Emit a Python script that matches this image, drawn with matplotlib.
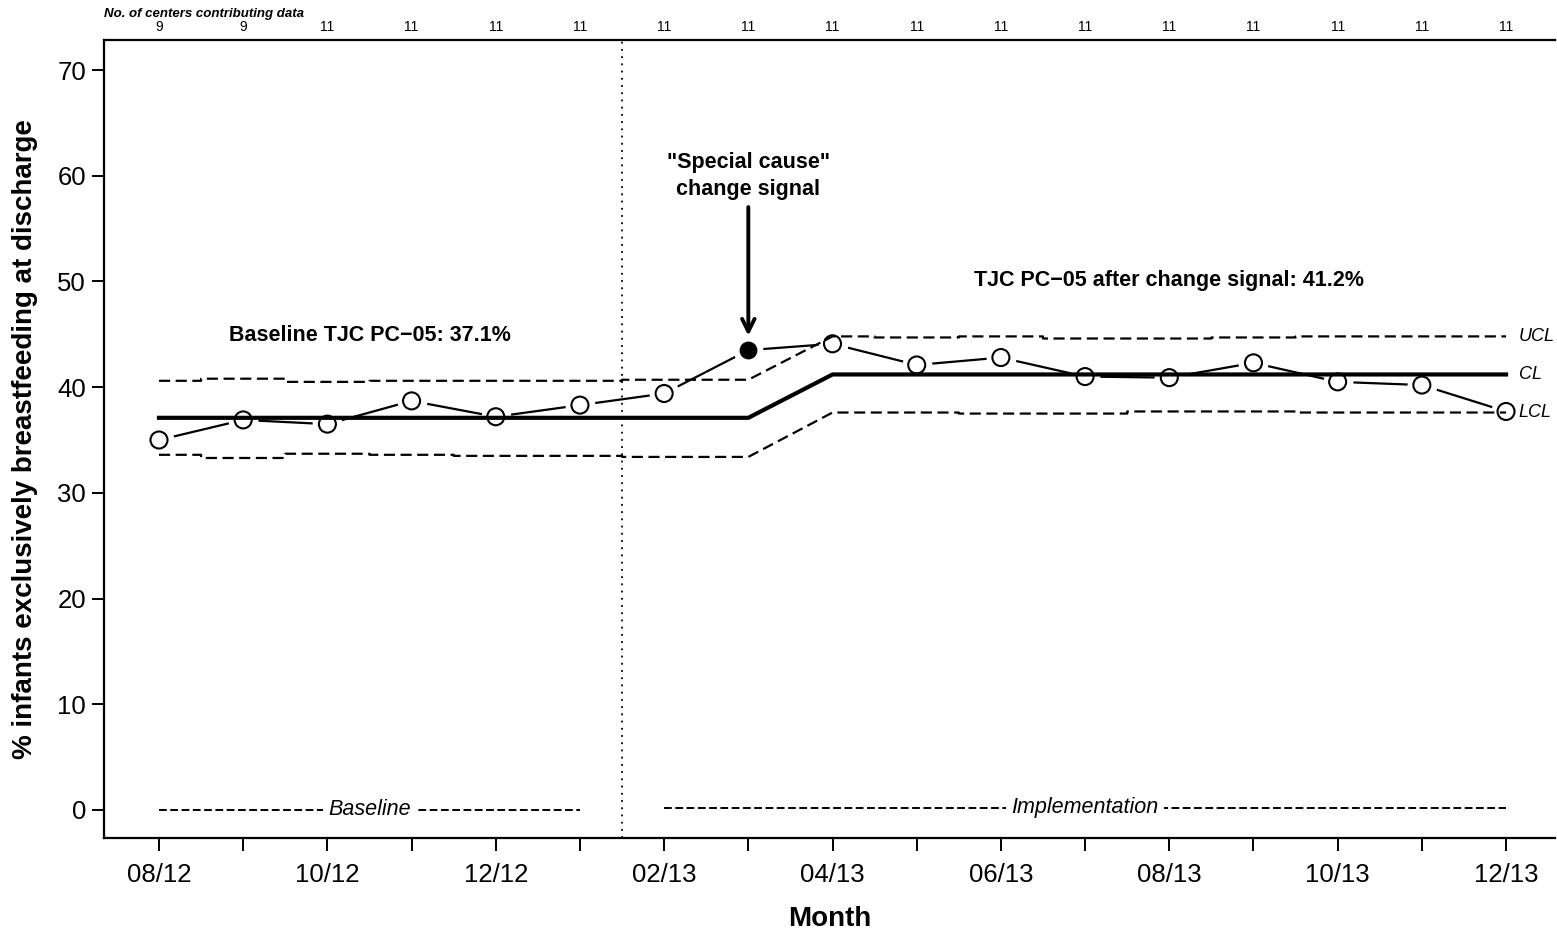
import numpy as np
import matplotlib
matplotlib.use('Agg')
import matplotlib.pyplot as plt

plt.rcParams['font.family'] = ['Liberation Sans', 'DejaVu Sans']

# monthly data
months = ['08/12', '09/12', '10/12', '11/12', '12/12', '01/13', '02/13', '03/13', '04/13',
          '05/13', '06/13', '07/13', '08/13', '09/13', '10/13', '11/13', '12/13']
pct = [35.0, 36.9, 36.5, 38.7, 37.2, 38.3, 39.4, 43.5, 44.1,
       42.1, 42.8, 41.0, 40.9, 42.3, 40.5, 40.2, 37.7]
centers = [9, 9, 11, 11, 11, 11, 11, 11, 11, 11, 11, 11, 11, 11, 11, 11, 11]

# control limits, baseline (08/12-03/13) and after change signal (04/13-12/13)
cl_base = 37.1
cl_after = 41.2
ucl_base = [40.6, 40.8, 40.5, 40.6, 40.6, 40.6, 40.7, 40.7]
lcl_base = [33.6, 33.3, 33.7, 33.6, 33.5, 33.5, 33.4, 33.4]
ucl_after = [44.8, 44.7, 44.8, 44.6, 44.6, 44.7, 44.8, 44.8, 44.8]
lcl_after = [37.6, 37.6, 37.5, 37.5, 37.7, 37.7, 37.6, 37.6, 37.6]
signal_idx = 7
phase_split = 5.5  # between 01/13 and 02/13

x = np.arange(len(months))
nb = len(ucl_base)
xb = x[:nb]
xa = x[nb:]

fig = plt.figure(figsize=(15.57, 9.3), dpi=100)
ax = fig.add_axes([104 / 1557, 1 - 838 / 930, (1555 - 104) / 1557, (838 - 40) / 930])

# data line with gaps around the points
ax.plot(x, pct, color='black', lw=1.6, zorder=2)
ax.scatter(x, pct, s=420, color='white', zorder=3)

# center line
cl = [cl_base] * nb + [cl_after] * len(xa)
ax.plot(x, cl, color='black', lw=3, zorder=4, solid_joinstyle='miter')


def limit_path(xs, vals):
    # step at the month midpoints
    px, py = [], []
    for i, (xi, v) in enumerate(zip(xs, vals)):
        lo = xi if i == 0 else xi - 0.5
        hi = xi if i == len(xs) - 1 else xi + 0.5
        px += [lo, hi]
        py += [v, v]
    return px, py


for base, after in [(ucl_base, ucl_after), (lcl_base, lcl_after)]:
    p1x, p1y = limit_path(xb, base)
    p2x, p2y = limit_path(xa, after)
    ax.plot(p1x + p2x, p1y + p2y, color='black', lw=1.6, ls=(0, (5, 2.5)), zorder=4)

# points
open_idx = [i for i in x if i != signal_idx]
ax.scatter(x[open_idx], np.array(pct)[open_idx], s=150, facecolor='none',
           edgecolor='black', lw=1.5, zorder=5)
ax.scatter([signal_idx], [pct[signal_idx]], s=140, color='black', zorder=5)

# right side labels
for lab, val in [('UCL', ucl_after[-1]), ('CL', cl_after), ('LCL', lcl_after[-1])]:
    ax.text(16.15, val, lab, style='italic', fontsize=13, va='center', ha='left')

# phase separator
ax.axvline(phase_split, color='black', lw=1.3, ls=(0, (1, 3)), zorder=1)

# phase labels
ax.plot([0, 5], [0, 0], color='black', lw=1.4, ls=(0, (4, 1.8)))
ax.text(2.5, 0, 'Baseline', style='italic', fontsize=15.5, ha='center', va='center',
        bbox=dict(facecolor='white', edgecolor='none', pad=4))
ax.plot([6, 16], [0.2, 0.2], color='black', lw=1.4, ls=(0, (4, 1.8)))
ax.text(11, 0.2, 'Implementation', style='italic', fontsize=15.5, ha='center', va='center',
        bbox=dict(facecolor='white', edgecolor='none', pad=4))

# annotations
ax.text(2.5, 44.9, 'Baseline TJC PC\u221205: 37.1%', fontsize=15.5, fontweight='bold',
        ha='center', va='center')
ax.text(12, 50.1, 'TJC PC\u221205 after change signal: 41.2%', fontsize=15.5,
        fontweight='bold', ha='center', va='center')
ax.text(7, 60.0, '"Special cause"\nchange signal', fontsize=15.5, fontweight='bold',
        ha='center', va='center', linespacing=1.4)
ax.annotate('', xy=(7, 44.6), xytext=(7, 57.3),
            arrowprops=dict(arrowstyle='->,head_length=0.9,head_width=0.45',
                            color='black', lw=2.8))

# centers contributing
for xi, n in zip(x, centers):
    ax.text(xi, 1.008, str(n), transform=ax.get_xaxis_transform(), fontsize=10,
            ha='center', va='bottom')
fig.text(104 / 1557, 1 - 14 / 930, 'No. of centers contributing data', fontsize=9.5,
         fontweight='bold', style='italic', ha='left', va='center')

# axes
ax.set_xlim((104 - 159) / 84.19, (1555 - 159) / 84.19)
ax.set_ylim(-2.65, 72.84)
ax.set_xticks(x)
ax.set_xticklabels([m if i % 2 == 0 else '' for i, m in enumerate(months)])
ax.set_yticks(np.arange(0, 71, 10))
ax.tick_params(axis='both', labelsize=18.5, length=9, width=1.4, direction='out')
ax.tick_params(axis='y', pad=4)
ax.tick_params(axis='x', pad=9)
for side in ['left', 'bottom', 'top']:
    ax.spines[side].set_linewidth(1.6)
ax.spines['right'].set_visible(False)

ax.set_xlabel('Month', fontsize=20, fontweight='bold', labelpad=14)
ax.set_ylabel('% infants exclusively breastfeeding at discharge', fontsize=20,
              fontweight='bold', labelpad=14)

fig.savefig('out.png', dpi=100)
